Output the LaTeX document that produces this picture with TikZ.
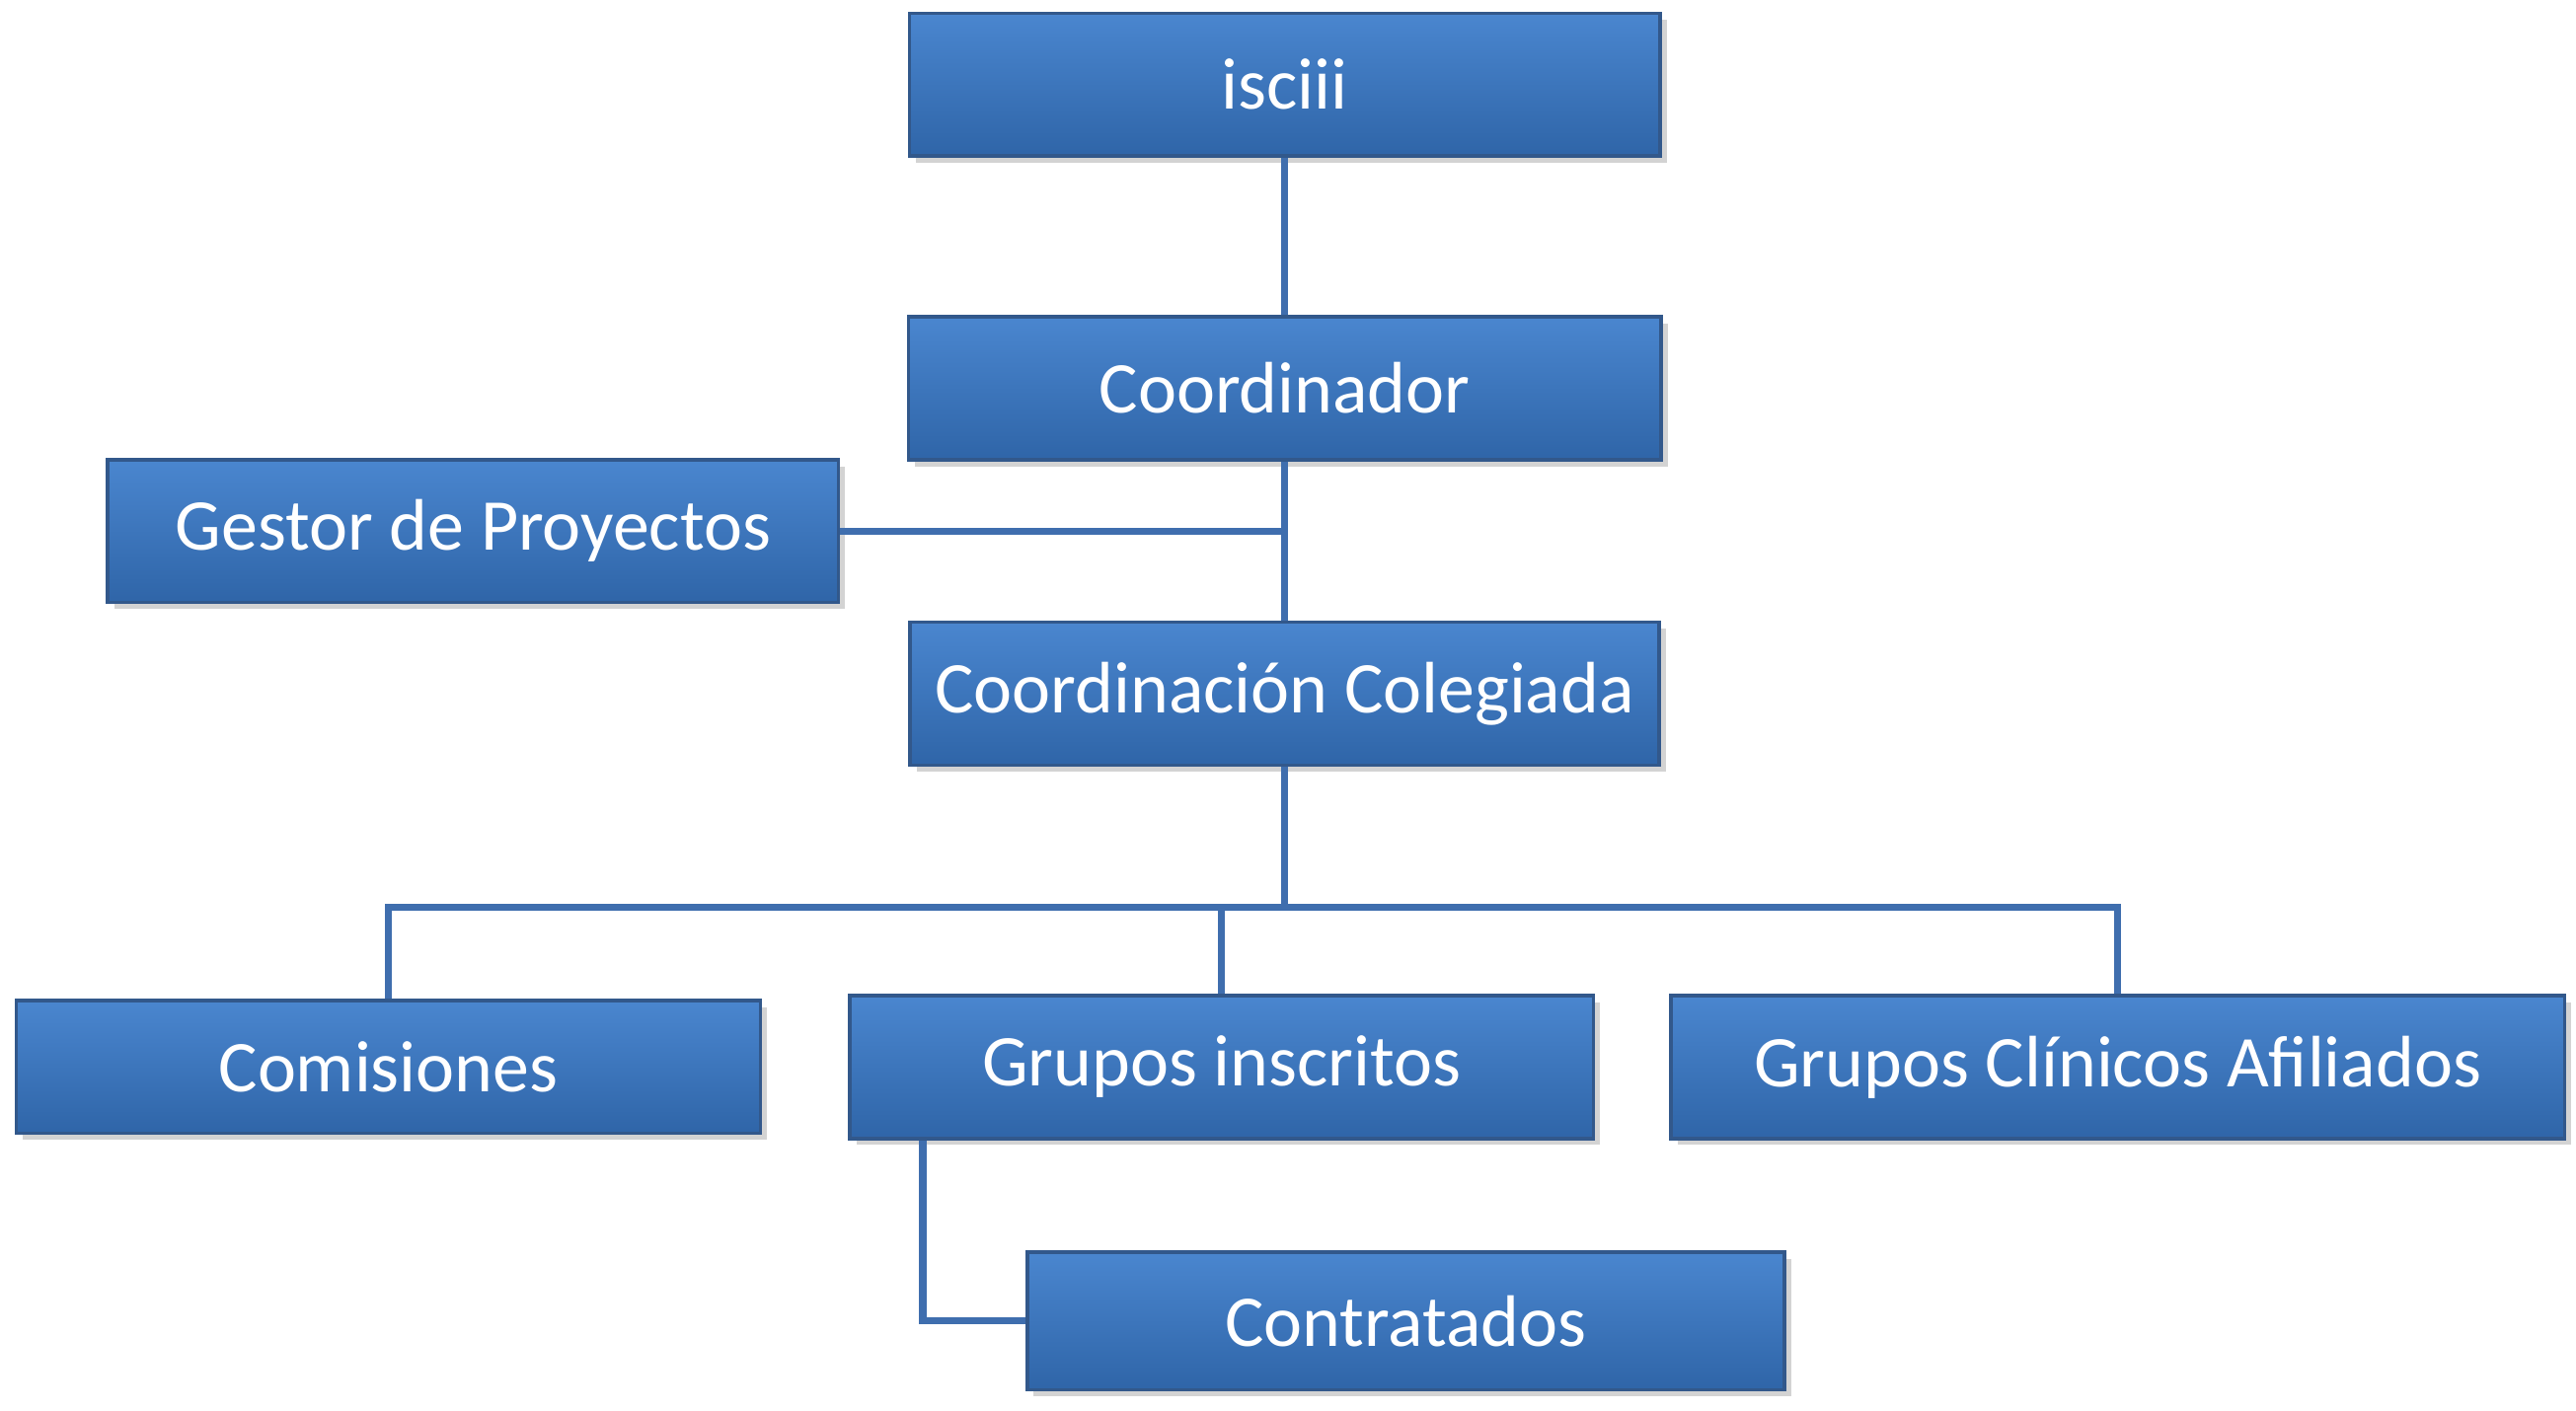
\documentclass[tikz,border=0pt]{standalone}
\usepackage{fontspec}
\setmainfont{Carlito}
\usetikzlibrary{shadows}
\definecolor{boxtop}{HTML}{4A86CF}
\definecolor{boxbot}{HTML}{2F65A8}
\definecolor{boxline}{HTML}{3F6EAE}
\begin{document}
\begin{tikzpicture}[x=0.01cm,y=-0.01cm,
  orgbox/.style={draw=boxline!80!black,line width=0.6pt,top color=boxtop,bottom color=boxbot,
    drop shadow={shadow xshift=0.04cm,shadow yshift=-0.04cm,opacity=0.35},
    text=white,font=\fontsize{12.5}{14}\selectfont,minimum height=0.86cm,inner sep=0pt},
  link/.style={draw=boxline,line width=1.2pt}]
  \useasboundingbox (0,0) rectangle (1552,850);
  \node[orgbox,minimum width=4.52cm] (isciii) at (774,51) {isciii};
  \node[orgbox,minimum width=4.53cm] (coord) at (774,234) {Coordinador};
  \node[orgbox,minimum width=4.40cm] (gestor) at (285,320) {Gestor de Proyectos};
  \node[orgbox,minimum width=4.51cm] (coleg) at (774,418) {Coordinación Colegiada};
  \node[orgbox,minimum width=4.48cm,minimum height=0.80cm] (comis) at (234,643) {Comisiones};
  \node[orgbox,minimum width=4.48cm] (grupos) at (736,643) {Grupos inscritos};
  \node[orgbox,minimum width=5.38cm] (clinicos) at (1276,643) {Grupos Clínicos Afiliados};
  \node[orgbox,minimum width=4.56cm,minimum height=0.83cm] (contrat) at (847,796) {Contratados};
  \coordinate (bus) at (774,547);
  \begin{scope}[on background layer/.try]
    \draw[link] (isciii) -- (coord);
    \draw[link] (coord) -- (coleg);
    \draw[link] (gestor.east) -- (774,320);
    \draw[link] (coleg.south) -- (bus);
    \draw[link] (comis.north) |- (bus) -| (clinicos.north);
    \draw[link] (grupos.north) -- (736,547);
    \draw[link] (grupos.south -| 556,0) |- (contrat.west);
  \end{scope}
\end{tikzpicture}
\end{document}
